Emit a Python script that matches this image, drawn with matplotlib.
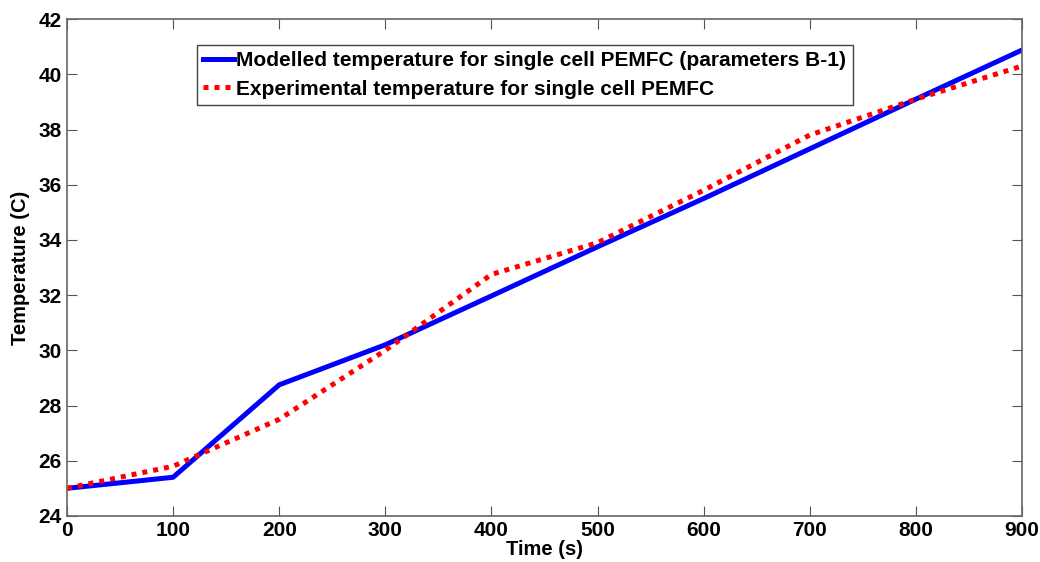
import numpy as np
import matplotlib.pyplot as plt

plt.rcParams['font.family'] = ['Liberation Sans', 'DejaVu Sans']
plt.rcParams['font.weight'] = 'bold'

time_s = [0, 100, 200, 300, 400, 500, 600, 700, 800, 900]
modelled = [25.0, 25.4, 28.75, 30.2, 31.97, 33.75, 35.5, 37.3, 39.1, 40.88]
experimental = [25.0, 25.8, 27.5, 30.0, 32.75, 33.9, 35.8, 37.8, 39.1, 40.3]

fig = plt.figure(figsize=(10.4, 5.62), dpi=100)
ax = fig.add_axes([0.0644, 0.082, 0.9183, 0.884])

ax.plot(time_s, modelled, color='#0000ff', lw=3.6,
        label='Modelled temperature for single cell PEMFC (parameters B-1)')
ax.plot(time_s, experimental, color='#ff0000', lw=3.6, ls=(0, (1, 1.2)),
        label='Experimental temperature for single cell PEMFC')

ax.set_xlim(0, 900)
ax.set_ylim(24, 42)
ax.set_xticks(np.arange(0, 901, 100))
ax.set_yticks(np.arange(24, 43, 2))
ax.tick_params(direction='in', length=7, top=True, right=True,
               labelsize=15, color='#555555', pad=4)
for sp in ax.spines.values():
    sp.set_color('#666666')
    sp.set_linewidth(1.2)

ax.set_xlabel('Time (s)', fontsize=14.5, fontweight='bold', labelpad=0)
ax.set_ylabel('Temperature (C)', fontsize=14.5, fontweight='bold', labelpad=6)

leg = ax.legend(loc='upper left', bbox_to_anchor=(0.136, 0.948), fontsize=15,
                borderaxespad=0, handlelength=1.5, handletextpad=0.1,
                borderpad=0.3, labelspacing=0.45, fancybox=False, framealpha=1)
leg.get_frame().set_edgecolor('#444444')
leg.get_frame().set_linewidth(1.0)

fig.savefig('out.png', dpi=100)
